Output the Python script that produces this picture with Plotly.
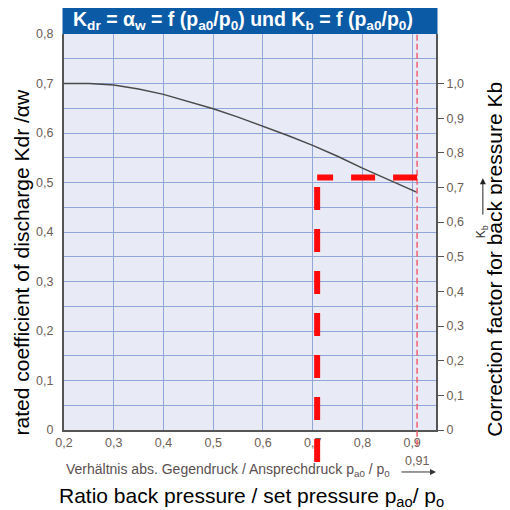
import plotly.graph_objects as go

# ---- data ----
ratio = [0.20, 0.25, 0.30, 0.35, 0.40, 0.45, 0.50, 0.55, 0.60, 0.65, 0.70, 0.75, 0.80, 0.85, 0.90, 0.91]
kdr = [0.700, 0.700, 0.697, 0.689, 0.678, 0.664, 0.649, 0.632, 0.614, 0.595, 0.575, 0.553, 0.529, 0.506, 0.484, 0.480]

x_tickvals = [0.2, 0.3, 0.4, 0.5, 0.6, 0.7, 0.8, 0.9]
x_ticktext = ["0,2", "0,3", "0,4", "0,5", "0,6", "0,7", "0,8", "0,9"]
y_tickvals = [0, 0.1, 0.2, 0.3, 0.4, 0.5, 0.6, 0.7, 0.8]
y_ticktext = ["0", "0,1", "0,2", "0,3", "0,4", "0,5", "0,6", "0,7", "0,8"]
y_minor = [0.05, 0.15, 0.25, 0.35, 0.45, 0.55, 0.65, 0.75]
kb_tickvals = [0, 0.1, 0.2, 0.3, 0.4, 0.5, 0.6, 0.7, 0.8, 0.9, 1.0]
kb_ticktext = ["0", "0,1", "0,2", "0,3", "0,4", "0,5", "0,6", "0,7", "0,8", "0,9", "1,0"]

KDR_MAX = 0.8
KB_PER_KDR = 0.7          # Kb = 1.0 corresponds to Kdr = 0.7
X_MIN, X_MAX = 0.2, 0.948

mark_x = 0.709            # example reading (red dashed construction)
mark_kdr = 0.51
limit_x = 0.91            # 0,91 limit line
mark_kb = mark_kdr / KB_PER_KDR

FONT = "Liberation Sans, Arial, sans-serif"
TICK_COL = "#6b5e55"
GRID_COL = "#90a6d8"
AX_COL = "#555555"

fig = go.Figure()
fig.add_trace(go.Scatter(x=ratio, y=kdr, mode="lines",
                         line=dict(color="#4a4a4a", width=1.5),
                         hoverinfo="skip", showlegend=False))
# invisible trace to activate right axis
fig.add_trace(go.Scatter(x=[limit_x], y=[mark_kb], yaxis="y2", mode="markers",
                         marker=dict(opacity=0), hoverinfo="skip", showlegend=False))

fig.update_layout(
    width=502, height=502,
    margin=dict(l=56, r=74, t=26, b=80),
    paper_bgcolor="white",
    plot_bgcolor="#e8ebf6",
    font=dict(family=FONT, size=12, color=TICK_COL),
    showlegend=False,
    xaxis=dict(range=[X_MIN, X_MAX], tickvals=x_tickvals, ticktext=x_ticktext,
               showgrid=True, gridcolor=GRID_COL, gridwidth=1, zeroline=False,
               showline=True, linecolor=AX_COL, linewidth=2, ticks="",
               tickfont=dict(size=12.5, color=TICK_COL)),
    yaxis=dict(range=[0, KDR_MAX], tickvals=y_tickvals, ticktext=y_ticktext,
               showgrid=True, gridcolor=GRID_COL, gridwidth=1, zeroline=False,
               showline=True, linecolor=AX_COL, linewidth=2, ticks="",
               minor=dict(tickvals=y_minor, showgrid=True, gridcolor=GRID_COL, gridwidth=1),
               tickfont=dict(size=12.5, color=TICK_COL), ticklabelstandoff=6),
    yaxis2=dict(range=[0, KDR_MAX / KB_PER_KDR], tickvals=kb_tickvals, ticktext=kb_ticktext,
                overlaying="y", side="right", showgrid=False, zeroline=False,
                showline=True, linecolor=AX_COL, linewidth=2,
                ticks="outside", ticklen=6, tickcolor=AX_COL, tickwidth=1,
                tickfont=dict(size=12.5, color=TICK_COL)),
)

shapes = []
# title band
shapes.append(dict(type="rect", xref="paper", yref="paper", x0=-0.004, x1=1.004,
                   y0=1.0, y1=1.07, fillcolor="#0a5aa6", line=dict(width=0), layer="above"))
# thin dashed limit line at 0,91
shapes.append(dict(type="line", xref="x", yref="y domain", x0=limit_x, x1=limit_x,
                   y0=-0.04, y1=1.0, line=dict(color="#f06070", width=1.5, dash="6px,3px"),
                   layer="above"))
# thick red dashed construction lines
shapes.append(dict(type="line", xref="x", yref="y domain", x0=mark_x, x1=mark_x,
                   y0=-0.081, y1=mark_kdr / KDR_MAX,
                   line=dict(color="#ff0a0a", width=6, dash="23px,19px"), layer="above"))
shapes.append(dict(type="line", xref="x", yref="y", x0=limit_x, x1=mark_x,
                   y0=mark_kdr, y1=mark_kdr,
                   line=dict(color="#ff0a0a", width=6, dash="24px,18px"), layer="above"))
fig.update_layout(shapes=shapes)

ann = []
ann.append(dict(xref="paper", yref="paper", x=0.02, y=1.035, xanchor="left", yanchor="middle",
                showarrow=False,
                text="<b>K<sub>dr</sub> = α<sub>w</sub> = f (p<sub>a0</sub>/p<sub>0</sub>) und "
                     "K<sub>b</sub> = f (p<sub>a0</sub>/p<sub>0</sub>)</b>",
                font=dict(family=FONT, size=19.5, color="white")))
ann.append(dict(xref="paper", yref="paper", x=-0.113, y=0.423, textangle=-90,
                xanchor="center", yanchor="middle", showarrow=False,
                text="rated coefficient of discharge Kdr /αw",
                font=dict(family=FONT, size=21, color="black")))
ann.append(dict(xref="paper", yref="paper", x=1.158, y=0.432, textangle=-90,
                xanchor="center", yanchor="middle", showarrow=False,
                text="Correction factor for back pressure Kb",
                font=dict(family=FONT, size=21, color="black")))
# Kb arrow on right
ann.append(dict(xref="paper", yref="paper", x=1.126, y=0.636, ax=0, ay=38,
                showarrow=True, arrowhead=2, arrowwidth=1, arrowsize=1.2, arrowcolor="#222",
                text=""))
ann.append(dict(xref="paper", yref="paper", x=1.124, y=0.5, textangle=-90,
                xanchor="center", yanchor="middle", showarrow=False,
                text="K<sub>b</sub>", font=dict(family=FONT, size=12, color="#333")))
# German x label
ann.append(dict(xref="paper", yref="paper", x=0.0, y=-0.101, xanchor="left", yanchor="middle",
                showarrow=False,
                text="Verhältnis abs. Gegendruck / Ansprechdruck p<sub>a0</sub> / p<sub>0</sub>",
                font=dict(family=FONT, size=14, color="#5a5050")))
ann.append(dict(xref="paper", yref="paper", x=1.0, y=-0.106, ax=-36, ay=0,
                showarrow=True, arrowhead=2, arrowwidth=1, arrowsize=1.2, arrowcolor="#333",
                text=""))
ann.append(dict(xref="x", yref="paper", x=limit_x, y=-0.078, xanchor="center", yanchor="middle",
                showarrow=False, text="0,91", font=dict(family=FONT, size=12.5, color=TICK_COL)))
# English x label
ann.append(dict(xref="paper", yref="paper", x=0.503, y=-0.169, xanchor="center", yanchor="middle",
                showarrow=False,
                text="Ratio back pressure / set pressure p<sub>ao</sub>/ p<sub>o</sub>",
                font=dict(family=FONT, size=21, color="black")))
fig.update_layout(annotations=ann)

fig.write_html("out.html")
